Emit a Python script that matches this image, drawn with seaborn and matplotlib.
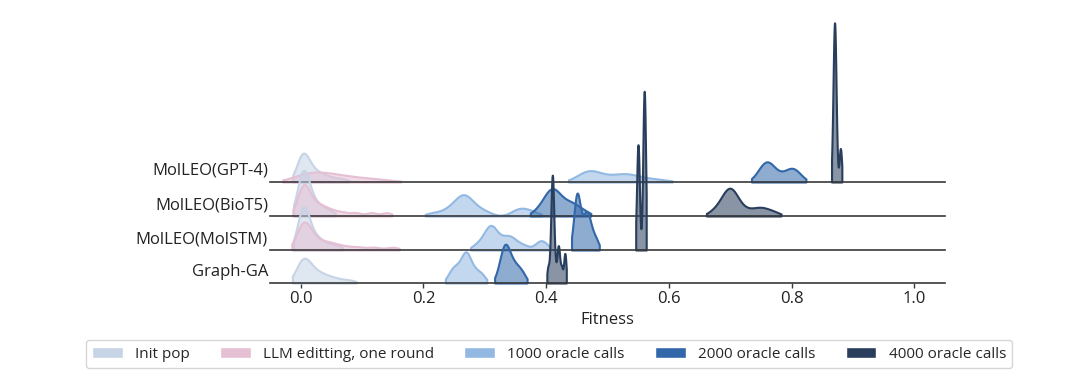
#!/usr/bin/env python3
"""
Ridgeline of fitness distributions per method and optimisation stage.
"""

import pandas as pd
import matplotlib
matplotlib.use('Agg')
import matplotlib.pyplot as plt
import matplotlib.transforms as mtransforms
from matplotlib.colors import to_rgba
from matplotlib.patches import Patch
import seaborn as sns

sns.set_style("white")
plt.rcParams['font.family'] = ['Open Sans', 'DejaVu Sans']

# Rows (top to bottom) and stages
methods = ['MolLEO(GPT-4)', 'MolLEO(BioT5)', 'MolLEO(MolSTM)', 'Graph-GA']
stages = ['Init pop', 'LLM editting, one round', '1000 oracle calls',
          '2000 oracle calls', '4000 oracle calls']
stage_colors = ['#c6d4e6', '#e5bfd3', '#93b9e2', '#3267aa', '#283e5c']

# Fitness samples
gpt4_init = [-0.004, -0.002, 0.0, 0.001, 0.002, 0.003, 0.004, 0.005, 0.006, 0.008,
             0.010, 0.013, 0.016, 0.020, 0.025, 0.030, 0.036, 0.044, 0.055, 0.07]
gpt4_llm = [-0.006, 0.0, 0.005, 0.01, 0.015, 0.02, 0.025, 0.03, 0.036, 0.042,
            0.048, 0.055, 0.062, 0.07, 0.08, 0.092, 0.105, 0.12, 0.14]
gpt4_1000 = [0.452, 0.46, 0.465, 0.468, 0.471, 0.474, 0.478, 0.484, 0.492, 0.502,
             0.512, 0.52, 0.526, 0.531, 0.537, 0.545, 0.556, 0.57, 0.59]
gpt4_2000 = [0.745, 0.751, 0.755, 0.758, 0.76, 0.762, 0.765, 0.769, 0.776, 0.786,
             0.795, 0.799, 0.802, 0.806, 0.813]
gpt4_4000 = [0.867, 0.868, 0.869, 0.869, 0.870, 0.870, 0.870, 0.870, 0.871, 0.871,
             0.872, 0.873, 0.879, 0.880]

biot5_init = [-0.003, 0.0, 0.001, 0.002, 0.003, 0.004, 0.004, 0.005, 0.006, 0.008,
              0.010, 0.013, 0.017, 0.022, 0.028, 0.036, 0.048]
biot5_llm = [-0.004, 0.0, 0.002, 0.003, 0.004, 0.005, 0.006, 0.007, 0.009, 0.012,
             0.016, 0.021, 0.026, 0.031, 0.037, 0.045, 0.055, 0.07, 0.09, 0.115, 0.14]
biot5_1000 = [0.215, 0.235, 0.245, 0.252, 0.257, 0.261, 0.264, 0.266, 0.268, 0.271,
              0.275, 0.281, 0.29, 0.302, 0.35, 0.358, 0.366, 0.38]
biot5_2000 = [0.385, 0.395, 0.4, 0.404, 0.407, 0.409, 0.411, 0.413, 0.416, 0.42,
              0.425, 0.432, 0.438, 0.443, 0.45, 0.462]
biot5_4000 = [0.672, 0.682, 0.688, 0.692, 0.695, 0.697, 0.699, 0.700, 0.702, 0.704,
              0.707, 0.711, 0.718, 0.73, 0.742, 0.75, 0.758, 0.772]

molstm_init = [-0.003, 0.0, 0.001, 0.002, 0.003, 0.004, 0.005, 0.005, 0.006, 0.008,
               0.01, 0.013, 0.017, 0.022, 0.028, 0.034, 0.045, 0.06]
molstm_llm = [-0.004, 0.0, 0.002, 0.003, 0.004, 0.005, 0.006, 0.007, 0.009, 0.012,
              0.016, 0.021, 0.027, 0.034, 0.042, 0.05, 0.06, 0.075, 0.095, 0.12, 0.15]
molstm_1000 = [0.285, 0.295, 0.3, 0.304, 0.307, 0.309, 0.311, 0.313, 0.316, 0.32,
               0.326, 0.332, 0.337, 0.341, 0.346, 0.353, 0.365, 0.386, 0.392, 0.398]
molstm_2000 = [0.446, 0.448, 0.449, 0.45, 0.451, 0.451, 0.452, 0.454, 0.458, 0.461,
               0.464, 0.466, 0.467, 0.469, 0.472, 0.476, 0.482]
molstm_4000 = [0.548, 0.549, 0.550, 0.550, 0.550, 0.551, 0.558, 0.559, 0.559, 0.560,
               0.560, 0.560, 0.560, 0.561, 0.561]

graphga_init = [-0.003, 0.0, 0.001, 0.002, 0.003, 0.004, 0.006, 0.008, 0.011, 0.014,
                0.018, 0.023, 0.028, 0.034, 0.041, 0.05, 0.062, 0.08]
graphga_1000 = [0.242, 0.248, 0.252, 0.256, 0.261, 0.264, 0.267, 0.269, 0.27, 0.272,
                0.275, 0.279, 0.284, 0.29, 0.297]
graphga_2000 = [0.322, 0.327, 0.329, 0.331, 0.333, 0.334, 0.336, 0.338, 0.341, 0.344,
                0.348, 0.352, 0.357, 0.363]
graphga_4000 = [0.403, 0.407, 0.408, 0.409, 0.41, 0.41, 0.41, 0.411, 0.411, 0.412,
                0.414, 0.418, 0.42, 0.421, 0.425, 0.43, 0.431]

# KDE bandwidth factors, one per stage (None = stage not run)
gpt4_bw = [0.8, 1.0, 0.7, 0.8, 0.85]
biot5_bw = [1.1, 0.4, 0.45, 0.9, 0.7]
molstm_bw = [0.9, 0.45, 0.45, 0.75, 0.68]
graphga_bw = [0.8, None, 0.7, 0.85, 0.4]

samples = {
    'MolLEO(GPT-4)': [gpt4_init, gpt4_llm, gpt4_1000, gpt4_2000, gpt4_4000],
    'MolLEO(BioT5)': [biot5_init, biot5_llm, biot5_1000, biot5_2000, biot5_4000],
    'MolLEO(MolSTM)': [molstm_init, molstm_llm, molstm_1000, molstm_2000, molstm_4000],
    'Graph-GA': [graphga_init, [], graphga_1000, graphga_2000, graphga_4000],
}
bws = dict(zip(methods, [gpt4_bw, biot5_bw, molstm_bw, graphga_bw]))

rows = []
for m in methods:
    for s, vals in zip(stages, samples[m]):
        for v in vals:
            rows.append({'method': m, 'stage': s, 'fitness': v})
df = pd.DataFrame(rows)

# Figure layout (pixels at dpi 100)
W, H = 1080, 384
fig = plt.figure(figsize=(W / 100, H / 100), dpi=100)
baselines = [182, 216, 250, 283]
row_scale = [1.15, 1.5, 1.5, 1.2]
ax_left, ax_width, ax_height = 270, 675, 170

for i, m in enumerate(methods):
    ax = fig.add_axes([ax_left / W, 1 - baselines[i] / H, ax_width / W, ax_height / H])
    ax.patch.set_visible(False)
    for j, s in enumerate(stages):
        sub = df[(df['method'] == m) & (df['stage'] == s)]
        if sub.empty:
            continue
        c = stage_colors[j]
        sns.kdeplot(data=sub, x='fitness', ax=ax, fill=True, cut=1,
                    bw_adjust=bws[m][j], facecolor=to_rgba(c, 0.55),
                    edgecolor=c, linewidth=1.5, clip_on=False)
    ax.set_xlim(-0.05, 1.05)
    ax.set_ylim(0, ax_height / row_scale[i])
    for sp in ['left', 'right', 'top']:
        ax.spines[sp].set_visible(False)
    ax.spines['bottom'].set_color('#3a3a3a')
    ax.spines['bottom'].set_linewidth(1.2)
    ax.set_yticks([])
    ax.set_ylabel('')
    trans = mtransforms.blended_transform_factory(ax.transAxes, ax.transAxes)
    ax.text(-0.003, 11 / ax_height, m, transform=trans, ha='right', va='center',
            fontsize=12, color='#222222')
    if i == len(methods) - 1:
        ax.set_xticks([0.0, 0.2, 0.4, 0.6, 0.8, 1.0])
        ax.tick_params(axis='x', bottom=True, length=3.5, width=1, color='#3a3a3a',
                       labelsize=12, pad=2, labelcolor='#222222')
        ax.set_xlabel('Fitness', fontsize=12, color='#222222')
    else:
        ax.set_xticks([])
        ax.set_xlabel('')

handles = [Patch(facecolor=c, label=s) for s, c in zip(stages, stage_colors)]
fig.legend(handles=handles, loc='center', bbox_to_anchor=(549 / W, 1 - 354 / H),
           ncol=5, fontsize=11, frameon=True)

plt.savefig('out.png', dpi=100)
print("saved out.png")
